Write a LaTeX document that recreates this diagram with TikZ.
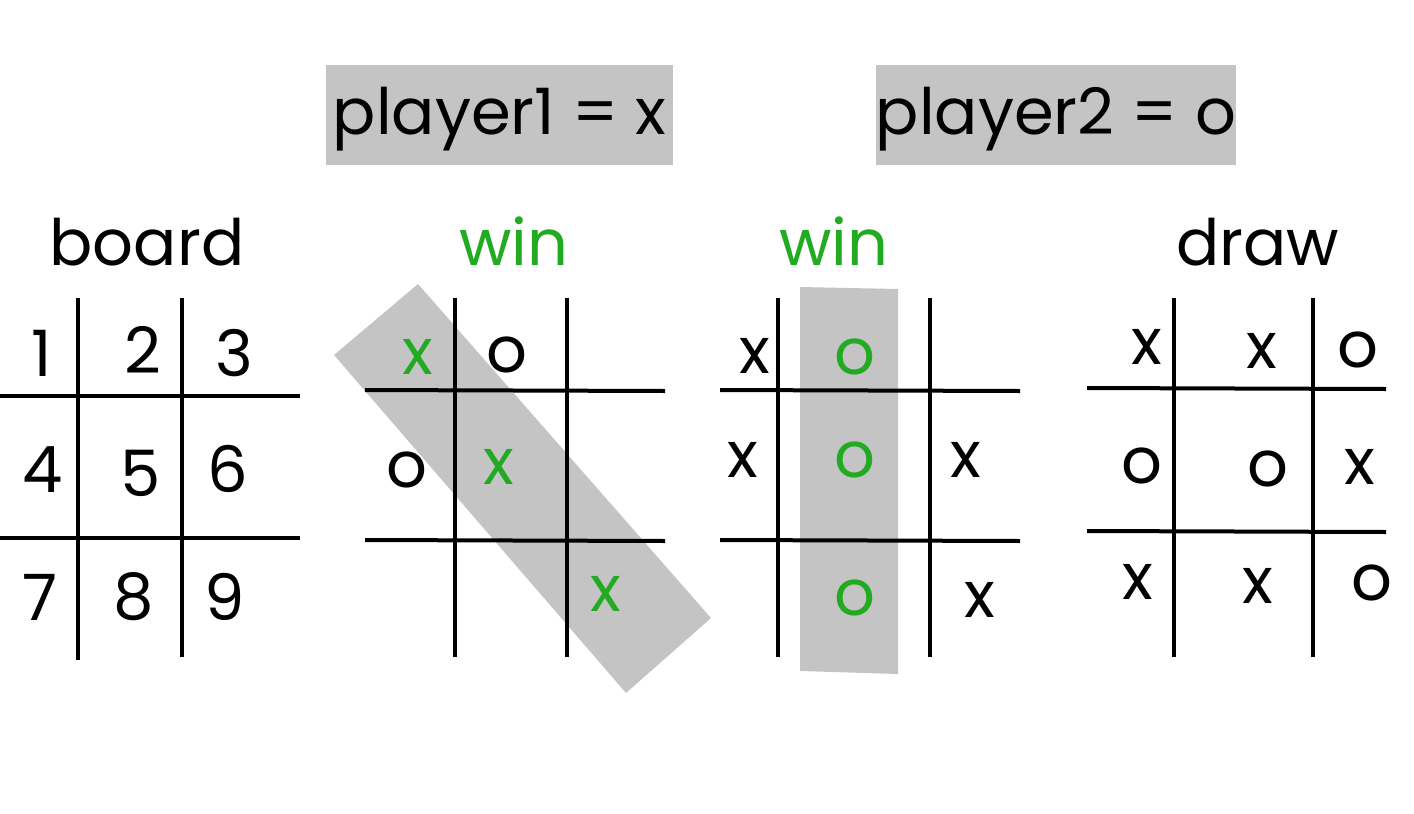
\documentclass[tikz,border=0pt]{standalone}
\usepackage{fontspec}
\setmainfont{Poppins}
\usepackage{xcolor}
\usepackage{tikz}
\definecolor{wingreen}{RGB}{34,170,34}
\definecolor{bandgrey}{RGB}{196,196,196}
\tikzset{
  gridline/.style={line width=2pt, black},
  cell/.style={inner sep=0pt, font=\fontsize{32}{38}\selectfont},
  heading/.style={inner sep=0pt, anchor=base, font=\fontsize{32}{38}\selectfont},
  banner/.style={fill=bandgrey, inner sep=0pt, minimum height=50pt, font=\fontsize{32}{38}\selectfont},
  band/.style={fill=bandgrey, draw=none},
}
\begin{document}
\begin{tikzpicture}[x=0.5pt,y=-0.5pt]
    \useasboundingbox (0,0) rectangle (1414,814);
    % players
    \node[banner, minimum width=173.5pt] (player1) at (499.5,115) {\raisebox{-2pt}[\height][\depth]{player1 = x}};
    \node[banner, minimum width=180pt] (player2) at (1056,115) {\raisebox{-2pt}[\height][\depth]{player2 = o}};

    % headings
    \node[heading] (hboard) at (147,265) {board};
    \node[heading, text=wingreen] (hwinx) at (514,265) {win};
    \node[heading, text=wingreen] (hwino) at (834,265) {win};
    \node[heading] (hdraw) at (1258,265) {draw};

    % winning bands
    \fill[band] (334,355) -- (418,284) -- (711,618) -- (626,693) -- cycle;
    \fill[band] (800,287) -- (898,289) -- (898,674) -- (800,671) -- cycle;

    % board
    \draw[gridline] (78,298) -- (78,660);
    \draw[gridline] (182,298) -- (182,657);
    \draw[gridline] (0,396) -- (300,396);
    \draw[gridline] (0,538) -- (300,538);
    \node[cell] (b1) at (42,353) {1};
    \node[cell] (b2) at (143,350) {2};
    \node[cell] (b3) at (234,353) {3};
    \node[cell] (b4) at (43,470) {4};
    \node[cell] (b5) at (141,473) {5};
    \node[cell] (b6) at (228,469) {6};
    \node[cell] (b7) at (40,597) {7};
    \node[cell] (b8) at (134,597) {8};
    \node[cell] (b9) at (225,597) {9};

    % player1 wins: diagonal
    \draw[gridline] (455,298) -- (455,657);
    \draw[gridline] (567,298) -- (567,657);
    \draw[gridline] (365,390) -- (665,391);
    \draw[gridline] (365,540) -- (665,541);
    \node[cell, text=wingreen] (wx1) at (418,357) {x};
    \node[cell] (wx2) at (507,355) {o};
    \node[cell] (wx4) at (407,470) {o};
    \node[cell, text=wingreen] (wx5) at (499,467) {x};
    \node[cell, text=wingreen] (wx9) at (606,594) {x};

    % player2 wins: middle column
    \draw[gridline] (778,298) -- (778,657);
    \draw[gridline] (930,298) -- (930,657);
    \draw[gridline] (720,390) -- (1020,391);
    \draw[gridline] (720,540) -- (1020,541);
    \node[cell] (wo1) at (755,356) {x};
    \node[cell, text=wingreen] (wo2) at (855,357) {o};
    \node[cell] (wo4) at (743,460) {x};
    \node[cell, text=wingreen] (wo5) at (855,460) {o};
    \node[cell] (wo6) at (966,460) {x};
    \node[cell, text=wingreen] (wo8) at (855,598) {o};
    \node[cell] (wo9) at (980,600) {x};

    % draw
    \draw[gridline] (1174,298) -- (1174,657);
    \draw[gridline] (1313,298) -- (1313,657);
    \draw[gridline] (1087,388) -- (1386,389);
    \draw[gridline] (1087,531) -- (1386,532);
    \node[cell] (d1) at (1147,347) {x};
    \node[cell] (d2) at (1262,351) {x};
    \node[cell] (d3) at (1358,350) {o};
    \node[cell] (d4) at (1142,466) {o};
    \node[cell] (d5) at (1268,469) {o};
    \node[cell] (d6) at (1360,467) {x};
    \node[cell] (d7) at (1138,582) {x};
    \node[cell] (d8) at (1258,586) {x};
    \node[cell] (d9) at (1372,583) {o};
\end{tikzpicture}
\end{document}
